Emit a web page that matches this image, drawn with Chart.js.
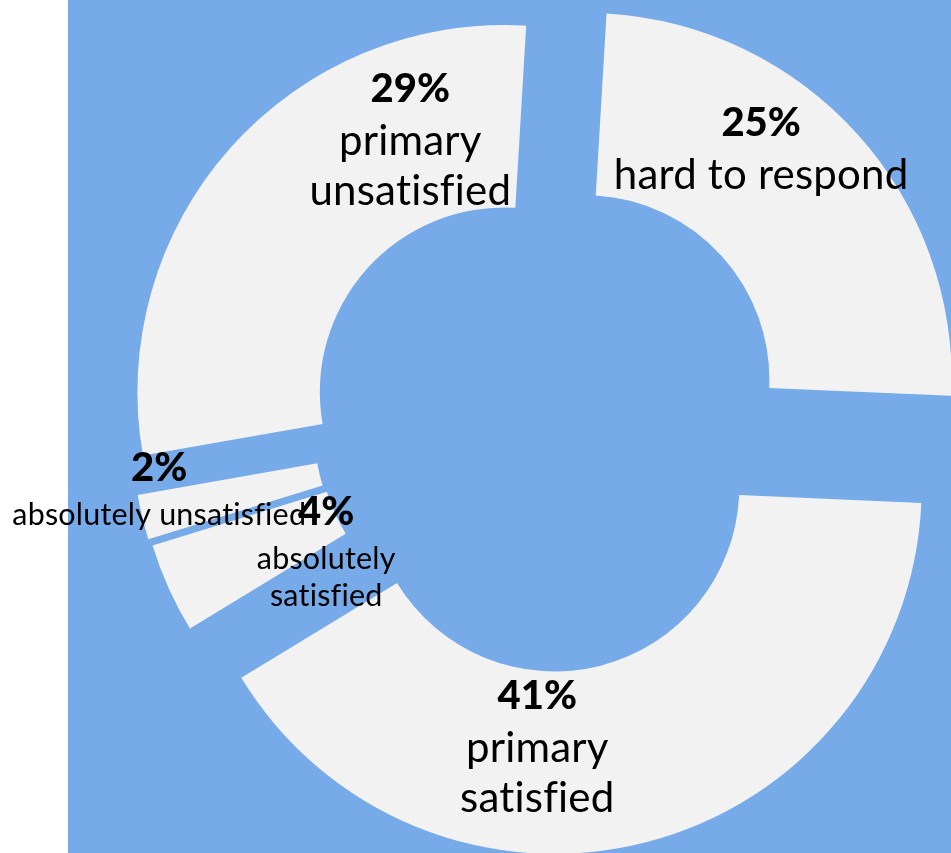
<!DOCTYPE html>
<html>
<head>
<meta charset="utf-8">
<title>Satisfaction</title>
<script src="https://cdn.jsdelivr.net/npm/chart.js@4.4.1/dist/chart.umd.min.js"></script>
<style>
	html, body { margin: 0; padding: 0; background: #fff; overflow: hidden; }
	#wrap { position: relative; width: 951px; height: 853px; }
	#bg { position: absolute; left: 68px; top: 0; right: 0; bottom: 0; background: #76aae8; }
	#chartCanvas { position: absolute; left: 0; top: 0; }
</style>
</head>
<body>
<div id="wrap">
	<div id="bg"></div>
	<canvas id="chartCanvas" width="951" height="853"></canvas>
</div>
<script>
// 資料（從圖上讀出的百分比，順時針由上方開始）
const categories = [
	["hard to respond"],
	["primary", "satisfied"],
	["absolutely", "satisfied"],
	["absolutely unsatisfied"],
	["primary", "unsatisfied"]
];
const values = [25, 41, 4, 2, 29];

// 每塊往外推的距離 (px)
const explodeDist = [63, 67, 38, 40, 45];
// 標籤位置：相對圓心，以外半徑為單位 (x 中心, 第一行基線)
const labelAnchor = [
	[0.608, -0.780],
	[-0.002, 0.783],
	[-0.577, 0.281],
	[-1.032, 0.160],
	[-0.348, -0.872]
];
const labelSize = [42, 42, 30.5, 30.5, 42];

const explodePlugin = {
	id: "explode",
	beforeDatasetDraw(chart, args) {
		const ctx = chart.ctx;
		args.meta.data.forEach((arc, i) => {
			const mid = (arc.startAngle + arc.endAngle) / 2;
			const d = explodeDist[i] || 0;
			ctx.save();
			ctx.translate(Math.cos(mid) * d, Math.sin(mid) * d);
			arc.draw(ctx, chart.chartArea);
			ctx.restore();
		});
		return false;
	}
};

const labelPlugin = {
	id: "sliceLabels",
	afterDatasetsDraw(chart) {
		const ctx = chart.ctx;
		const meta = chart.getDatasetMeta(0);
		ctx.save();
		ctx.fillStyle = "#000";
		ctx.textAlign = "center";
		ctx.textBaseline = "alphabetic";
		meta.data.forEach((arc, i) => {
			const R = arc.outerRadius;
			const x = arc.x + labelAnchor[i][0] * R;
			let y = arc.y + labelAnchor[i][1] * R;
			const size = labelSize[i];
			const big = size >= 36;
			ctx.letterSpacing = "0px";
			ctx.font = "900 40px Lato";
			ctx.fillText(values[i] + "%", x, y);
			// 小字距避免 fi 連字
			ctx.letterSpacing = "0.2px";
			ctx.font = size + "px Lato";
			y += big ? 53 : 44;
			categories[i].forEach((line) => {
				ctx.fillText(line, x, y);
				y += big ? 50 : 37;
			});
		});
		ctx.restore();
	}
};

const ctx = document.getElementById("chartCanvas").getContext("2d");
const chart = new Chart(ctx, {
	type: "doughnut",
	data: {
		labels: categories,
		datasets: [
			{
				data: values,
				backgroundColor: "#f2f2f2",
				borderWidth: 0,
				hoverOffset: 0
			}
		]
	},
	options: {
		responsive: false,
		animation: false,
		rotation: 3.4,
		radius: 367,
		cutout: "50.3%",
		layout: {
			padding: { left: 125, right: 0, top: 0, bottom: 9 }
		},
		plugins: {
			legend: { display: false },
			tooltip: { enabled: false }
		}
	},
	plugins: [explodePlugin, labelPlugin]
});
</script>
</body>
</html>
